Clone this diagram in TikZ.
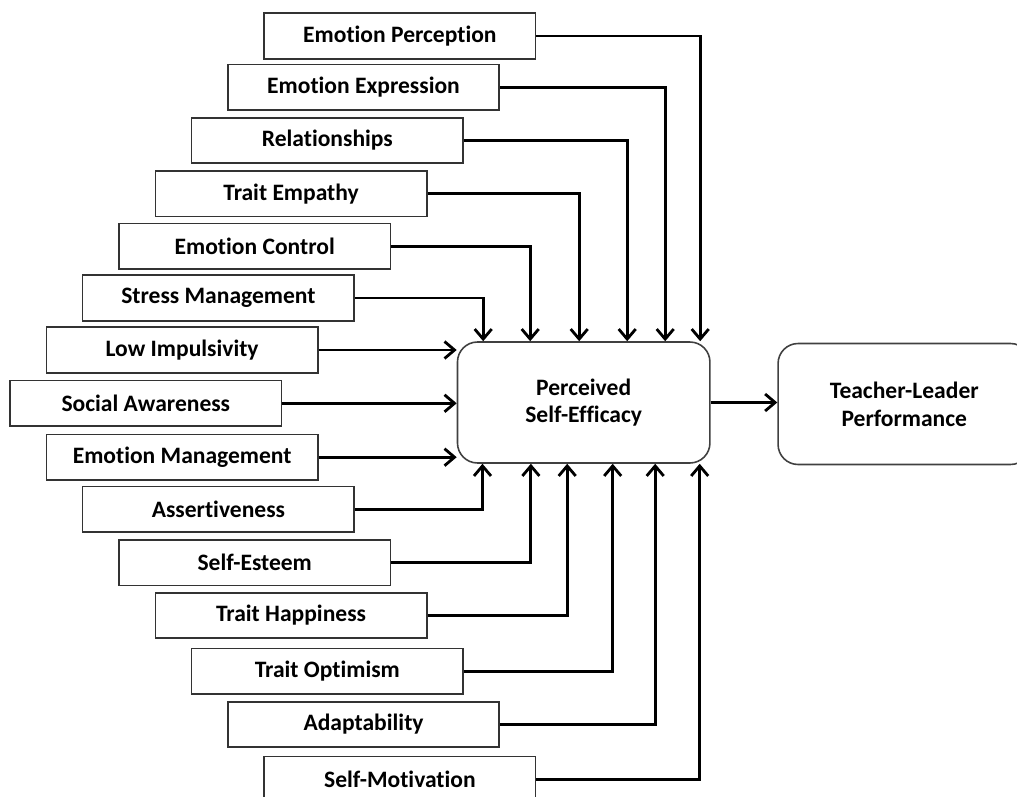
\documentclass[tikz,border=0pt]{standalone}
\usepackage{fontspec}
\setmainfont[Ligatures=NoCommon]{Carlito}
\usetikzlibrary{calc,arrows.meta}

\begin{document}
\begin{tikzpicture}[x=0.02cm, y=-0.02cm,
  factor/.style={draw=black!80, line width=0.9pt, anchor=west, inner sep=0pt,
    minimum width=5.43cm, minimum height=0.91cm, font=\bfseries\fontsize{13.4}{16}\selectfont},
  core/.style={draw=black!75, line width=0.9pt, rounded corners=0.4cm, align=center,
    minimum width=5.05cm, minimum height=2.42cm, font=\bfseries\fontsize{13.4}{15.8}\selectfont},
  arr/.style={line width=1.6pt, -{Straight Barb[length=0.2cm, width=0.34cm]}}
]
\useasboundingbox (0,0) rectangle (1017,797);

% factors, top to bottom
\node[factor] (ep) at (263.4,36) {Emotion Perception};
\node[factor] (ee) at (227,87.2) {Emotion Expression};
\node[factor] (rel) at (190.8,140.5) {Relationships};
\node[factor] (te) at (154.5,193.7) {Trait Empathy};
\node[factor] (ec) at (118.2,246.3) {Emotion Control};
\node[factor] (sm) at (81.9,298) {Stress Management};
\node[factor] (li) at (45.6,350) {Low Impulsivity};
\node[factor] (sa) at (9.3,403.3) {Social Awareness};
\node[factor] (em) at (45.6,457.2) {Emotion Management};
\node[factor] (as) at (81.9,509.3) {Assertiveness};
\node[factor] (se) at (118.2,562.8) {Self-Esteem};
\node[factor] (th) at (154.5,615.5) {Trait Happiness};
\node[factor] (to) at (190.8,671.2) {Trait Optimism};
\node[factor] (ad) at (227,724.5) {Adaptability};
\node[factor] (smo) at (263.4,779.4) {Self-Motivation};

\node[core] (pse) at (583.7,402.5) {Perceived\\Self-Efficacy};
\node[core] (tlp) at (904.3,404) {Teacher-Leader\\Performance};

% into the top
\draw[arr] (sm.east) -| ($(pse.north west)+(26.5,0)$);
\draw[arr] (ec.east) -| ($(pse.north west)+(73.5,0)$);
\draw[arr] (te.east) -| ($(pse.north west)+(122.5,0)$);
\draw[arr] (rel.east) -| ($(pse.north west)+(170.5,0)$);
\draw[arr] (ee.east) -| ($(pse.north west)+(208.5,0)$);
\draw[arr] (ep.east) -| ($(pse.north west)+(243.5,0)$);

% into the side
\draw[arr] (li.east) -- (li.east -| pse.west);
\draw[arr] (sa.east) -- (sa.east -| pse.west);
\draw[arr] (em.east) -- (em.east -| pse.west);

% into the bottom
\draw[arr] (as.east) -| ($(pse.south west)+(25.8,0)$);
\draw[arr] (se.east) -| ($(pse.south west)+(74.2,0)$);
\draw[arr] (th.east) -| ($(pse.south west)+(110.5,0)$);
\draw[arr] (to.east) -| ($(pse.south west)+(156,0)$);
\draw[arr] (ad.east) -| ($(pse.south west)+(198.5,0)$);
\draw[arr] (smo.east) -| ($(pse.south west)+(243,0)$);

\draw[arr] (pse.east) -- (pse.east -| tlp.west);
\end{tikzpicture}
\end{document}
